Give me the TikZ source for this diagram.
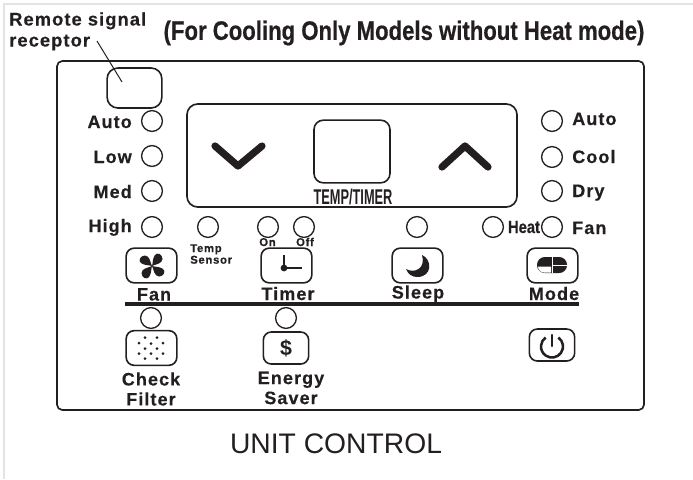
\documentclass[tikz,border=0pt]{standalone}
\usepackage{fontspec}
\setmainfont{Liberation Sans}
\newfontfamily\labelfont[LetterSpace=6,BoldFeatures={FakeBold=0.4}]{Liberation Sans}
\newfontfamily\narrowfont[FakeStretch=0.83,BoldFeatures={FakeBold=0.5}]{Liberation Sans}
\newfontfamily\tallfont[FakeStretch=0.6]{Liberation Sans}
\definecolor{ink}{HTML}{231F20}
\definecolor{pageline}{HTML}{E4E4E4}
\tikzset{
  lamp/.style={draw=ink, circle, line width=1pt, minimum size=15.6pt, inner sep=0pt, outer sep=0pt},
  keybox/.style={draw=ink, rounded corners=6pt, line width=1.2pt, minimum width=38pt, minimum height=26pt, inner sep=0pt},
  lamptext/.style={font=\labelfont\bfseries\fontsize{13.5}{15}\selectfont, text=ink, inner sep=0pt},
  smalltext/.style={font=\labelfont\bfseries\fontsize{8.5}{7.5}\selectfont, text=ink, inner sep=0pt, align=left},
  frameline/.style={draw=ink, line width=1.25pt}
}
\begin{document}
\begin{tikzpicture}[x=0.75pt,y=-0.75pt]
    \useasboundingbox (0,0) rectangle (693,479);
    % Borde de la pagina
    \draw[pageline, line width=1pt] (4,479) -- (4,4) -- (693,4);

    % Titulos
    \node[lamptext, font=\labelfont\bfseries\fontsize{13.7}{15.75}\selectfont, anchor=north west, align=left] (remote) at (9,12) {Remote signal\\receptor};
    \node[font=\narrowfont\bfseries\fontsize{20}{20}\selectfont, text=ink, inner sep=0pt] (title) at (404,33) {(For Cooling Only Models without Heat mode)};
    \node[font=\fontsize{21.2}{22}\selectfont, text=ink, inner sep=0pt] (caption) at (336,444) {UNIT CONTROL};

    % Marcos
    \draw[frameline, rounded corners=4pt] (57,61) rectangle (644,410);
    \draw[frameline, rounded corners=8pt] (187,104) rectangle (517,207);
    \node[keybox, minimum width=41pt, minimum height=30pt, rounded corners=8pt] (receptor) at (134.5,88) {};
    \node[keybox, minimum width=57pt, minimum height=47pt, rounded corners=7pt] (display) at (352,151.5) {};
    \node[font=\tallfont\bfseries\fontsize{16}{16}\selectfont, text=ink, inner sep=0pt] (temptimer) at (353,197) {TEMP/TIMER};

    % Linea al receptor
    \coordinate (leaderend) at (122,82);
    \draw[ink, line width=0.75pt] (97,41) -- (leaderend);

    % Flechas
    \draw[ink, line width=5.4pt, line cap=round, line join=round] (215,146) -- (238,166) -- (262,146);
    \draw[ink, line width=5.4pt, line cap=round, line join=round] (442,167) -- (465,146) -- (488,167);

    % Indicadores de la izquierda
    \node[lamp] (autoL) at (152,121) {};
    \node[lamp] (lowL) at (152,156) {};
    \node[lamp] (medL) at (152,191) {};
    \node[lamp] (highL) at (152,227) {};
    \node[lamptext, anchor=base east] (autoLtext) at (132,128) {Auto};
    \node[lamptext, anchor=base east] (lowLtext) at (132,163) {Low};
    \node[lamptext, anchor=base east] (medLtext) at (132,198) {Med};
    \node[lamptext, anchor=base east] (highLtext) at (132,232) {High};

    % Indicadores de la derecha
    \node[lamp] (autoR) at (552,121) {};
    \node[lamp] (coolR) at (552,157) {};
    \node[lamp] (dryR) at (552,191) {};
    \node[lamp] (fanR) at (552,227) {};
    \node[lamptext, anchor=base west] (autoRtext) at (572,125) {Auto};
    \node[lamptext, anchor=base west] (coolRtext) at (572,163) {Cool};
    \node[lamptext, anchor=base west] (dryRtext) at (572,197) {Dry};
    \node[lamptext, anchor=base west] (fanRtext) at (572,234) {Fan};

    % Fila central
    \node[lamp] (sensor) at (208,227) {};
    \node[lamp] (timeron) at (268,227) {};
    \node[lamp] (timeroff) at (304,227) {};
    \node[lamp] (sleeplamp) at (417,227) {};
    \node[lamp] (heatlamp) at (493,227) {};
    \node[font=\narrowfont\bfseries\fontsize{13.3}{14}\selectfont, text=ink, inner sep=0pt] (heattext) at (524,227) {Heat};
    \node[smalltext, anchor=north west] (sensortext) at (190,244) {Temp\\Sensor};
    \node[smalltext, anchor=base] (ontext) at (267.5,246) {On};
    \node[smalltext, anchor=base] (offtext) at (305,246) {Off};

    % Botones
    \node[keybox] (fanbtn) at (151.5,265.5) {};
    \node[keybox] (timerbtn) at (286.5,265.5) {};
    \node[keybox] (sleepbtn) at (417.5,265.5) {};
    \node[keybox] (modebtn) at (552.5,265.5) {};
    \node[lamptext, anchor=base] (fantext) at (154,300.5) {Fan};
    \node[lamptext, anchor=base] (timertext) at (288,300) {Timer};
    \node[lamptext, anchor=base] (sleeptext) at (418,298.5) {Sleep};
    \node[lamptext, anchor=base] (modetext) at (554,300) {Mode};

    % Separador
    \coordinate (ruleL) at (125,304);
    \coordinate (ruleR) at (579,304);
    \draw[ink, line width=2.5pt] (ruleL) -- (ruleR);

    % Segunda fila
    \node[lamp] (filterlamp) at (151,318) {};
    \node[lamp] (saverlamp) at (286,318) {};
    \node[keybox] (filterbtn) at (151.5,348) {};
    \node[keybox, minimum width=34pt, minimum height=24pt] (saverbtn) at (286,348) {};
    \node[keybox, minimum width=34pt, minimum height=24pt] (powerbtn) at (552,345) {};
    \node[lamptext, align=center, font=\labelfont\bfseries\fontsize{13.5}{15}\selectfont] (filtertext) at (151,389) {Check\\Filter};
    \node[lamptext, align=center, font=\labelfont\bfseries\fontsize{13.5}{15}\selectfont] (savertext) at (291,388) {Energy\\Saver};
    \node[font=\bfseries\fontsize{16}{16}\selectfont, text=ink, inner sep=0pt] (dollar) at (286,348) {\$};

    % Icono del ventilador
    \fill[ink] (152,266) .. controls (150,262) and (150,256) .. (145,255.5) .. controls (140,255.5) and (138,261) .. (141,263) .. controls (144,265.5) and (149,265) .. (152,266);
    \fill[ink, rotate around={90:(152,266)}] (152,266) .. controls (150,262) and (150,256) .. (145,255.5) .. controls (140,255.5) and (138,261) .. (141,263) .. controls (144,265.5) and (149,265) .. (152,266);
    \fill[ink, rotate around={180:(152,266)}] (152,266) .. controls (150,262) and (150,256) .. (145,255.5) .. controls (140,255.5) and (138,261) .. (141,263) .. controls (144,265.5) and (149,265) .. (152,266);
    \fill[ink, rotate around={270:(152,266)}] (152,266) .. controls (150,262) and (150,256) .. (145,255.5) .. controls (140,255.5) and (138,261) .. (141,263) .. controls (144,265.5) and (149,265) .. (152,266);

    % Icono del reloj
    \draw[ink, line width=1.8pt] (284,255) -- (284,268);
    \draw[ink, line width=1.4pt] (284,268) -- (302,268);
    \fill[ink] (284,268) circle (3.4);

    % Icono de la luna
    \fill[ink] (422,255) .. controls (432,259) and (433,277) .. (417,277) .. controls (412,277) and (408,274) .. (406,269) .. controls (415,274) and (426,268) .. (422,255);

    % Icono del modo
    \fill[ink, rounded corners=5.8pt] (537,257) rectangle (567,273);
    \fill[white] (538,266.5) -- (551,266.5) -- (551,272.5) -- (544,272.5) .. controls (541,272.5) and (538,270) .. (538,266.5) -- cycle;
    \draw[white, line width=0.4pt] (552.5,257) -- (552.5,273);
    \draw[white, line width=0.4pt] (552.5,265.5) -- (567,265.5);

    % Icono de encendido
    \draw[ink, line width=1.6pt, line cap=round] (552,335) -- (552,346);
    \draw[ink, line width=1.9pt] (558.3,337.5) arc[start angle=-55, end angle=235, radius=11];

    % Icono del filtro
    \fill[ink] (145,337.5) circle (1.5) (157,337.5) circle (1.5);
    \fill[ink] (139,343) circle (1.5) (151,343.5) circle (1.5) (163,343) circle (1.5);
    \fill[ink] (145,348.5) circle (1.5) (157,348.5) circle (1.5);
    \fill[ink] (139,353.5) circle (1.5) (151,353.5) circle (1.5) (163,353.5) circle (1.5);
    \fill[ink] (145,358.5) circle (1.5) (157,358.5) circle (1.5);
\end{tikzpicture}
\end{document}
